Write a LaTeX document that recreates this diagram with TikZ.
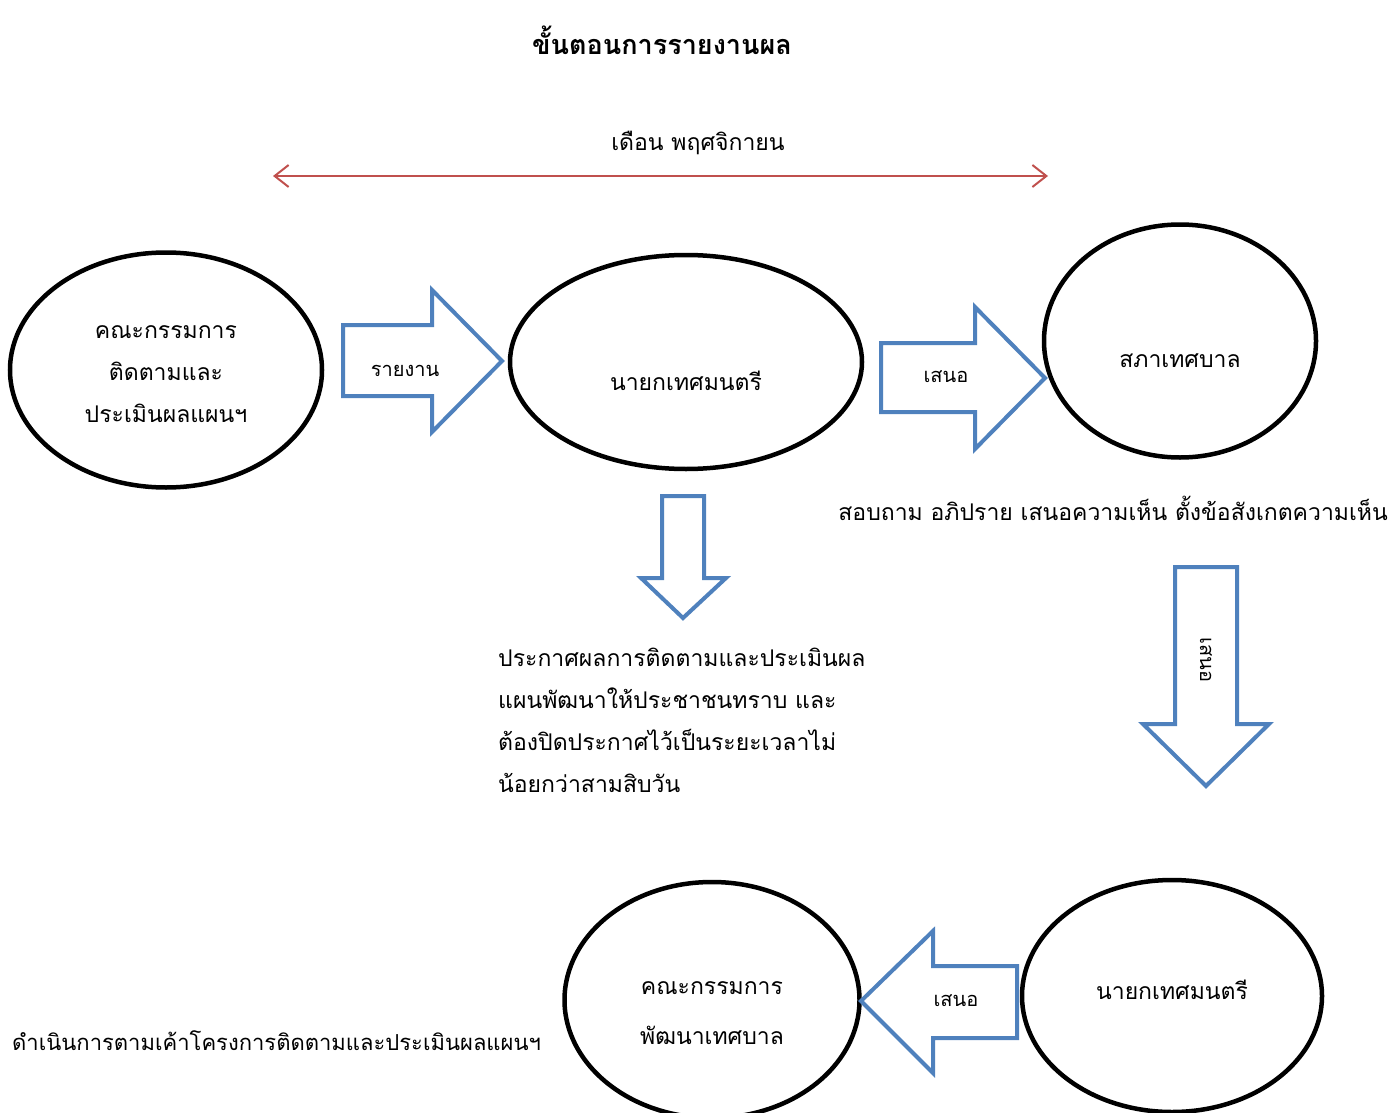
\documentclass[tikz,border=0pt]{standalone}
\usepackage{fontspec}
\setmainfont[Script=Thai]{Loma}
\usetikzlibrary{shapes.geometric}
\usetikzlibrary{arrows.meta}

\definecolor{arrowblue}{HTML}{4F81BD}
\definecolor{linered}{HTML}{C0504D}

\tikzset{
  oval/.style={draw=black, line width=4.5pt, ellipse, inner sep=0pt},
  blockarrow/.style={draw=arrowblue, line width=4pt, fill=white},
  txt/.style={font=\fontsize{23}{42}\selectfont, align=center, inner sep=0pt},
  small/.style={font=\fontsize{20}{24}\selectfont, inner sep=0pt}
}

\begin{document}
\begin{tikzpicture}[x=1pt,y=-1pt]
    \useasboundingbox (0,0) rectangle (1392,1113);
    \clip (0,0) rectangle (1392,1113);

    \node[font=\bfseries\fontsize{27}{34}\selectfont] (title) at (662,40) {ขั้นตอนการรายงานผล};

    \node[txt] (month) at (698,143) {เดือน พฤศจิกายน};
    \coordinate (monthstart) at (273,176);
    \coordinate (monthend) at (1048,176);
    \draw[color=linered, line width=2pt,
        {Straight Barb[length=14pt,width=22pt]}-{Straight Barb[length=14pt,width=22pt]}]
        (monthstart) -- (monthend);

    % ellipses
    \node[oval, minimum width=312, minimum height=235] (committee) at (166,370) {};
    \node[oval, minimum width=352, minimum height=214] (mayor) at (686,362) {};
    \node[oval, minimum width=272, minimum height=233] (council) at (1180,341) {};
    \node[oval, minimum width=295, minimum height=236] (devcommittee) at (712,1000) {};
    \node[oval, minimum width=300, minimum height=232] (mayorb) at (1172,996) {};

    \node[txt] (committeetext) at (166,374) {คณะกรรมการ\\ติดตามและ\\ประเมินผลแผนฯ};
    \node[txt] (mayortext) at (686,381) {นายกเทศมนตรี};
    \node[txt] (counciltext) at (1180,361) {สภาเทศบาล};
    \node[txt] (devtext) at (712,1013) {คณะกรรมการ\\[8pt]พัฒนาเทศบาล};
    \node[txt] (mayorbtext) at (1172,990) {นายกเทศมนตรี};

    % block arrows
    \draw[blockarrow] (343,325) -- (432,325) -- (432,290) -- (502,361)
        -- (432,432) -- (432,396) -- (343,396) -- cycle;
    \draw[blockarrow] (881,343) -- (975,343) -- (975,307) -- (1045,378)
        -- (975,449) -- (975,412) -- (881,412) -- cycle;
    \draw[blockarrow] (662,496) -- (704,496) -- (704,578) -- (726,578)
        -- (683,618) -- (641,578) -- (662,578) -- cycle;
    \draw[blockarrow] (1175,567) -- (1237,567) -- (1237,724) -- (1269,724)
        -- (1206,786) -- (1143,724) -- (1175,724) -- cycle;
    \draw[blockarrow] (1017,966) -- (933,966) -- (933,931) -- (861,1001)
        -- (933,1073) -- (933,1038) -- (1017,1038) -- cycle;

    \node[small] (reportlabel) at (405,371) {รายงาน};
    \node[small] (proposelabel) at (946,377) {เสนอ};
    \node[small, rotate=-90] (proposedown) at (1206,660) {เสนอ};
    \node[small] (proposeleft) at (956,1001) {เสนอ};

    % free texts
    \node[txt, anchor=east] (debate) at (1388,508) {สอบถาม อภิปราย เสนอความเห็น ตั้งข้อสังเกตความเห็น};
    \node[txt, anchor=west, align=left] (announce) at (498,720)
        {ประกาศผลการติดตามและประเมินผล\\แผนพัฒนาให้ประชาชนทราบ และ\\ต้องปิดประกาศไว้เป็นระยะเวลาไม่\\น้อยกว่าสามสิบวัน};
    \node[txt, font=\fontsize{22}{42}\selectfont, anchor=west] (operate) at (12,1041)
        {ดำเนินการตามเค้าโครงการติดตามและประเมินผลแผนฯ};
\end{tikzpicture}
\end{document}
